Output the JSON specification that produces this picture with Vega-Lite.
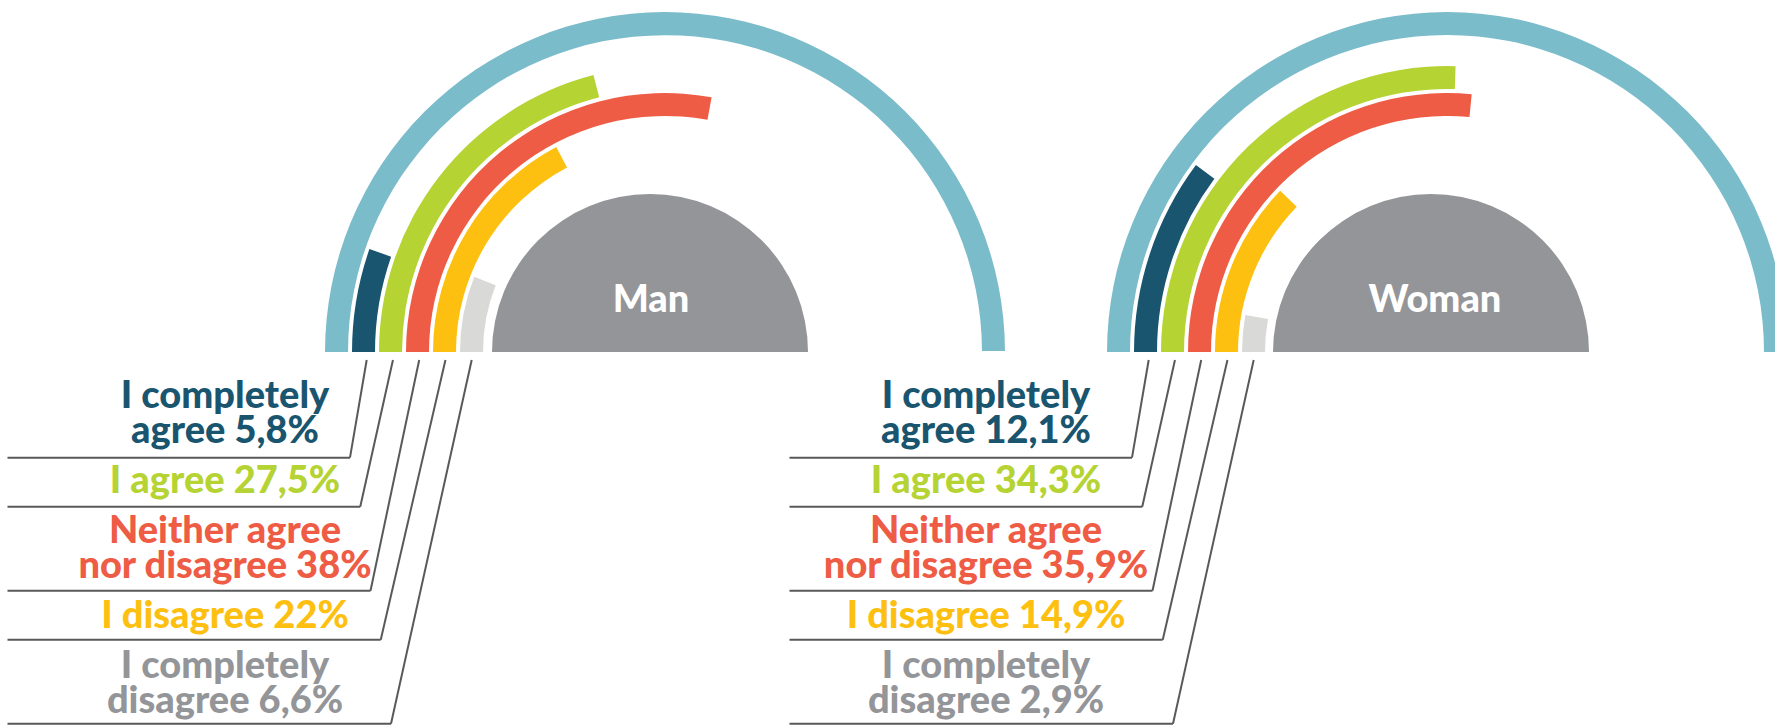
{
  "$schema": "https://vega.github.io/schema/vega-lite/v6.json",
  "width": 1775,
  "height": 704,
  "autosize": "none",
  "padding": {"left": 0, "top": 0, "right": 0, "bottom": 21},
  "background": "white",
  "config": {"view": {"stroke": null}},
  "data": {
    "values": [
      {"gender": "Man", "response": "I completely agree", "value": 5.8, "lines": ["I completely", "agree 5,8%"]},
      {"gender": "Man", "response": "I agree", "value": 27.5, "lines": ["I agree 27,5%"]},
      {"gender": "Man", "response": "Neither agree nor disagree", "value": 38, "lines": ["Neither agree", "nor disagree 38%"]},
      {"gender": "Man", "response": "I disagree", "value": 22, "lines": ["I disagree 22%"]},
      {"gender": "Man", "response": "I completely disagree", "value": 6.6, "lines": ["I completely", "disagree 6,6%"]},
      {"gender": "Woman", "response": "I completely agree", "value": 12.1, "lines": ["I completely", "agree 12,1%"]},
      {"gender": "Woman", "response": "I agree", "value": 34.3, "lines": ["I agree 34,3%"]},
      {"gender": "Woman", "response": "Neither agree nor disagree", "value": 35.9, "lines": ["Neither agree", "nor disagree 35,9%"]},
      {"gender": "Woman", "response": "I disagree", "value": 14.9, "lines": ["I disagree 14,9%"]},
      {"gender": "Woman", "response": "I completely disagree", "value": 2.9, "lines": ["I completely", "disagree 2,9%"]}
    ]
  },
  "layer": [
    {
      "transform": [{"aggregate": [{"op": "sum", "field": "value", "as": "total"}], "groupby": ["gender"]}],
      "mark": {"type": "arc", "color": "#7BBCCA"},
      "encoding": {
        "x": {"field": "gender", "type": "nominal", "scale": {"type": "point", "domain": ["Man", "Woman"], "range": [665, 1447], "padding": 0}, "axis": null},
        "theta": {"field": "total", "type": "quantitative", "stack": null, "scale": {"domain": [0, 100], "range": [-1.5708, 1.5708], "clamp": true, "nice": false}},
        "radius": {"datum": "Total", "type": "nominal", "scale": {"type": "band", "domain": ["I completely disagree", "I disagree", "Neither agree nor disagree", "I agree", "I completely agree", "Total"], "range": [182, 340], "paddingInner": 0.148, "paddingOuter": 0}}
      }
    },
    {
      "mark": {"type": "arc"},
      "encoding": {
        "x": {"field": "gender", "type": "nominal", "scale": {"type": "point", "domain": ["Man", "Woman"], "range": [665, 1447], "padding": 0}, "axis": null},
        "theta": {"field": "value", "type": "quantitative", "stack": null, "scale": {"type": "pow", "exponent": 0.88, "domain": [0, 73.8], "range": [-1.5708, 1.5708], "nice": false}},
        "radius": {"field": "response", "type": "nominal", "scale": {"type": "band", "domain": ["I completely disagree", "I disagree", "Neither agree nor disagree", "I agree", "I completely agree", "Total"], "range": [182, 340], "paddingInner": 0.148, "paddingOuter": 0}},
        "color": {"field": "response", "type": "nominal", "scale": {"domain": ["I completely agree", "I agree", "Neither agree nor disagree", "I disagree", "I completely disagree"], "range": ["#1A5570", "#B6D334", "#EF5C45", "#FDC010", "#D9D9D7"]}, "legend": null}
      }
    },
    {
      "transform": [{"aggregate": [{"op": "count", "as": "cnt"}], "groupby": ["gender"]}],
      "mark": {"type": "arc", "color": "#939598", "radius": 158, "radius2": 0, "theta": -1.5708, "theta2": 1.5708},
      "encoding": {
        "x": {"field": "gender", "type": "nominal", "scale": {"type": "point", "domain": ["Man", "Woman"], "range": [650, 1431], "padding": 0}, "axis": null}
      }
    },
    {
      "transform": [{"aggregate": [{"op": "count", "as": "cnt"}], "groupby": ["gender"]}],
      "mark": {"type": "text", "color": "white", "font": "Lato", "fontSize": 38, "fontWeight": 900, "align": "center", "baseline": "alphabetic", "dy": -40},
      "encoding": {
        "x": {"field": "gender", "type": "nominal", "scale": {"type": "point", "domain": ["Man", "Woman"], "range": [651, 1435], "padding": 0}, "axis": null},
        "text": {"field": "gender", "type": "nominal"}
      }
    },
    {
      "transform": [
        {"flatten": ["lines"], "as": ["line"]},
        {"window": [{"op": "row_number", "as": "n"}], "groupby": ["gender"]},
        {"window": [{"op": "row_number", "as": "j"}], "groupby": ["gender", "response"]},
        {"filter": {"field": "j", "equal": 1}}
      ],
      "mark": {"type": "text", "font": "Lato", "fontSize": 38, "fontWeight": 900, "align": "center", "baseline": "alphabetic", "lineHeight": 35},
      "encoding": {
        "x": {"field": "gender", "type": "nominal", "scale": {"type": "point", "domain": ["Man", "Woman"], "range": [225, 986], "padding": 0}, "axis": null},
        "y": {"field": "n", "type": "ordinal", "scale": {"type": "point", "domain": [0, 1, 2, 3, 4, 5, 6, 7, 8], "range": [360, 640], "padding": 0}, "axis": null},
        "yOffset": {"field": "response", "type": "nominal", "scale": {"type": "point", "domain": ["I completely agree", "I agree", "Neither agree nor disagree", "I disagree", "I completely disagree"], "range": [12.6, 73], "padding": 0}},
        "text": {"field": "lines", "type": "nominal"},
        "color": {"field": "response", "type": "nominal", "scale": {"domain": ["I completely agree", "I agree", "Neither agree nor disagree", "I disagree", "I completely disagree"], "range": ["#1A5570", "#B6D334", "#EF5C45", "#FDC010", "#939598"]}, "legend": null}
      }
    },
    {
      "transform": [
        {"flatten": ["lines"]},
        {"window": [{"op": "row_number", "as": "n"}], "groupby": ["gender"]},
        {"aggregate": [{"op": "max", "field": "n", "as": "nlast"}], "groupby": ["gender", "response"]}
      ],
      "mark": {"type": "rule", "color": "#58595B", "strokeWidth": 2, "x2Offset": -342.5},
      "encoding": {
        "x": {"field": "gender", "type": "nominal", "scale": {"type": "point", "domain": ["Man", "Woman"], "range": [350, 1132], "padding": 0}, "axis": null},
        "xOffset": {"field": "response", "type": "nominal", "scale": {"type": "point", "domain": ["I completely agree", "I agree", "Neither agree nor disagree", "I disagree", "I completely disagree"], "range": [0, 41], "padding": 0}},
        "x2": {"field": "gender"},
        "y": {"field": "nlast", "type": "ordinal", "scale": {"type": "point", "domain": [0, 1, 2, 3, 4, 5, 6, 7, 8], "range": [360, 640], "padding": 0}, "axis": null},
        "yOffset": {"field": "response", "type": "nominal", "scale": {"type": "point", "domain": ["I completely agree", "I agree", "Neither agree nor disagree", "I disagree", "I completely disagree"], "range": [27.7, 83.7], "padding": 0}}
      }
    },
    {
      "transform": [
        {"filter": {"field": "gender", "equal": "Man"}},
        {"flatten": ["lines"]},
        {"window": [{"op": "row_number", "as": "n"}], "groupby": ["gender"]},
        {"aggregate": [{"op": "max", "field": "n", "as": "nlast"}], "groupby": ["gender", "response"]}
      ],
      "mark": {"type": "rule", "color": "#58595B", "strokeWidth": 2},
      "encoding": {
        "x": {"field": "response", "type": "nominal", "scale": {"type": "point", "domain": ["I completely agree", "I agree", "Neither agree nor disagree", "I disagree", "I completely disagree"], "range": [366.7, 471.7], "padding": 0}, "axis": null},
        "xOffset": {"field": "response", "type": "nominal", "scale": {"type": "point", "domain": ["I completely agree", "I agree", "Neither agree nor disagree", "I disagree", "I completely disagree"], "range": [-16.7, -80.7], "padding": 0}},
        "x2": {"field": "response"},
        "y": {"field": "nlast", "type": "ordinal", "scale": {"type": "point", "domain": [0, 1, 2, 3, 4, 5, 6, 7, 8], "range": [360, 640], "padding": 0}, "axis": null},
        "yOffset": {"field": "response", "type": "nominal", "scale": {"type": "point", "domain": ["I completely agree", "I agree", "Neither agree nor disagree", "I disagree", "I completely disagree"], "range": [27.7, 83.7], "padding": 0}},
        "y2": {"datum": 0}
      }
    },
    {
      "transform": [
        {"filter": {"field": "gender", "equal": "Woman"}},
        {"flatten": ["lines"]},
        {"window": [{"op": "row_number", "as": "n"}], "groupby": ["gender"]},
        {"aggregate": [{"op": "max", "field": "n", "as": "nlast"}], "groupby": ["gender", "response"]}
      ],
      "mark": {"type": "rule", "color": "#58595B", "strokeWidth": 2},
      "encoding": {
        "x": {"field": "response", "type": "nominal", "scale": {"type": "point", "domain": ["I completely agree", "I agree", "Neither agree nor disagree", "I disagree", "I completely disagree"], "range": [1148.7, 1253.7], "padding": 0}, "axis": null},
        "xOffset": {"field": "response", "type": "nominal", "scale": {"type": "point", "domain": ["I completely agree", "I agree", "Neither agree nor disagree", "I disagree", "I completely disagree"], "range": [-16.7, -80.7], "padding": 0}},
        "x2": {"field": "response"},
        "y": {"field": "nlast", "type": "ordinal", "scale": {"type": "point", "domain": [0, 1, 2, 3, 4, 5, 6, 7, 8], "range": [360, 640], "padding": 0}, "axis": null},
        "yOffset": {"field": "response", "type": "nominal", "scale": {"type": "point", "domain": ["I completely agree", "I agree", "Neither agree nor disagree", "I disagree", "I completely disagree"], "range": [27.7, 83.7], "padding": 0}},
        "y2": {"datum": 0}
      }
    }
  ],
  "resolve": {
    "scale": {
      "x": "independent",
      "y": "independent",
      "xOffset": "independent",
      "yOffset": "independent",
      "theta": "independent",
      "radius": "independent",
      "color": "independent"
    }
  }
}
